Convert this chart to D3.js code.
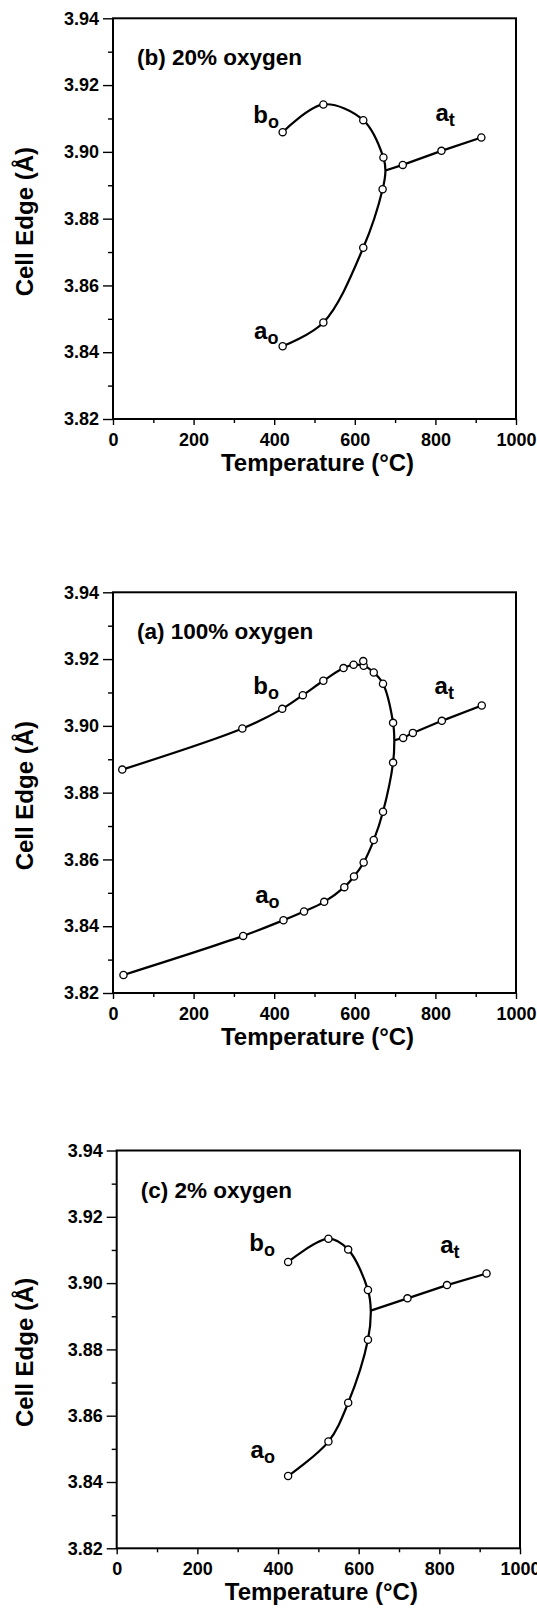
<!DOCTYPE html>
<html>
<head>
<meta charset="utf-8">
<script src="https://cdn.jsdelivr.net/npm/d3@7"></script>
<style>
body { margin: 0; background: #fff; }
svg text { font-family: "Liberation Sans", Arial, Helvetica, sans-serif; font-weight: bold; fill: #000; }
</style>
</head>
<body>
<svg width="537" height="1608"></svg>
<script>
// ticks
let xTicks = [0, 200, 400, 600, 800, 1000];
let xMinor = [100, 300, 500, 700, 900];
let yTicks = [3.82, 3.84, 3.86, 3.88, 3.90, 3.92, 3.94];
let yMinor = [3.83, 3.85, 3.87, 3.89, 3.91, 3.93];
let xTitle = "Temperature (°C)";
let yTitle = "Cell Edge (Å)";

// (b) 20% oxygen  [temperature, cell edge]
let bTitle = "(b) 20% oxygen";
let bBo = [[421, 3.9059], [522, 3.9142], [621, 3.9095], [671, 3.8983]];
let bAo = [[421, 3.8418], [522, 3.8489], [621, 3.8713], [669, 3.8888]];
let bAt = [[719, 3.8961], [815, 3.9003], [914, 3.9043]];
let bJoint = [676, 3.8944];
let bLabels = [["b", "o", 348, 3.9087], ["a", "t", 800, 3.9091], ["a", "o", 350, 3.8440]];

// (a) 100% oxygen
let aTitle = "(a) 100% oxygen";
let aBo = [[23, 3.8869], [321, 3.8992], [420, 3.9051], [471, 3.9092], [522, 3.9135], [572, 3.9173],
           [597, 3.9183], [622, 3.9180], [647, 3.9160], [670, 3.9126], [695, 3.9009]];
let aAo = [[26, 3.8254], [323, 3.8371], [423, 3.8418], [474, 3.8444], [524, 3.8473], [574, 3.8517],
           [598, 3.8549], [622, 3.8591], [647, 3.8658], [670, 3.8743], [695, 3.8890]];
let aExtra = [[621, 3.9194]];
let aAt = [[720, 3.8964], [744, 3.8979], [816, 3.9015], [915, 3.9061]];
let aJoint = [698, 3.8957];
let aLabels = [["b", "o", 348, 3.9096], ["a", "t", 798, 3.9096], ["a", "o", 353, 3.8471]];

// (c) 2% oxygen
let cTitle = "(c) 2% oxygen";
let cBo = [[425, 3.9064], [525, 3.9134], [574, 3.9101], [623, 3.8979]];
let cAo = [[425, 3.8418], [525, 3.8522], [574, 3.8639], [623, 3.8829]];
let cAt = [[721, 3.8954], [819, 3.8994], [917, 3.9029]];
let cJoint = [630, 3.8917];
let cLabels = [["b", "o", 329, 3.9097], ["a", "t", 802, 3.9092], ["a", "o", 332, 3.8471]];

let svg = d3.select("svg");

function drawPanel(p) {
    let g = svg.append("g").attr("transform", `translate(${p.left},${p.top})`);
    let x = d3.scaleLinear().domain([0, 1000]).range([0, p.w]);
    let y = d3.scaleLinear().domain([3.82, 3.94]).range([p.h, 0]);

    // axes
    let ya = g.append("g").call(d3.axisLeft(y).tickValues(yTicks).tickSize(10).tickPadding(4).tickFormat(d3.format(".2f")));
    let ym = g.append("g").call(d3.axisLeft(y).tickValues(yMinor).tickSize(5).tickFormat(""));
    let xa = g.append("g").attr("transform", `translate(0,${p.h})`)
        .call(d3.axisBottom(x).tickValues(xTicks).tickSize(6).tickPadding(8).tickFormat(d3.format("d")));
    let xm = g.append("g").attr("transform", `translate(0,${p.h})`)
        .call(d3.axisBottom(x).tickValues(xMinor).tickSize(4).tickFormat(""));
    [ya, ym, xa, xm].forEach(a => {
        a.select(".domain").remove();
        a.selectAll("line").attr("stroke", "#000").attr("stroke-width", 1.4);
        a.selectAll("text").style("font-size", "18px").attr("fill", "#000");
    });

    g.append("rect").attr("width", p.w).attr("height", p.h)
        .attr("fill", "none").attr("stroke", "#000").attr("stroke-width", 2);

    // titles
    g.append("text").attr("x", 24).attr("y", 47).style("font-size", "22.5px").text(p.title);
    g.append("text").attr("x", p.w / 2 + 3).attr("y", p.h + 52)
        .attr("text-anchor", "middle").style("font-size", "24px").text(xTitle);
    g.append("text").attr("transform", `translate(${33 - p.left},${p.h / 2 + 3}) rotate(-90)`)
        .attr("text-anchor", "middle").style("font-size", "24px").text(yTitle);

    // curves
    let line = d3.line().x(d => x(d[0])).y(d => y(d[1]));
    let loop = p.bo.concat([p.joint], p.ao.slice().reverse());
    g.append("path").attr("d", line.curve(d3.curveCatmullRom.alpha(0.5))(loop))
        .attr("fill", "none").attr("stroke", "#000").attr("stroke-width", 2.2);
    g.append("path").attr("d", d3.line().x(d => x(d[0])).y(d => y(d[1]))([p.joint].concat(p.at)))
        .attr("fill", "none").attr("stroke", "#000").attr("stroke-width", 2.2);

    // points
    g.selectAll("circle").data(p.bo.concat(p.ao, p.at, p.extra || []))
        .enter().append("circle")
        .attr("cx", d => x(d[0])).attr("cy", d => y(d[1])).attr("r", 3.6)
        .attr("fill", "#fff").attr("stroke", "#000").attr("stroke-width", 1.3);

    // branch labels
    p.labels.forEach(l => {
        let t = g.append("text").attr("x", x(l[2])).attr("y", y(l[3])).style("font-size", "24px");
        t.append("tspan").text(l[0]);
        t.append("tspan").attr("dy", 5).style("font-size", "18px").text(l[1]);
    });
}

drawPanel({ left: 113, top: 18.3, w: 403, h: 400.7, title: bTitle, bo: bBo, ao: bAo, at: bAt, joint: bJoint, labels: bLabels });
drawPanel({ left: 113, top: 592.3, w: 403, h: 400.7, title: aTitle, bo: aBo, ao: aAo, at: aAt, joint: aJoint, extra: aExtra, labels: aLabels });
drawPanel({ left: 116.7, top: 1150.5, w: 403.3, h: 397.8, title: cTitle, bo: cBo, ao: cAo, at: cAt, joint: cJoint, labels: cLabels });
</script>
</body>
</html>
